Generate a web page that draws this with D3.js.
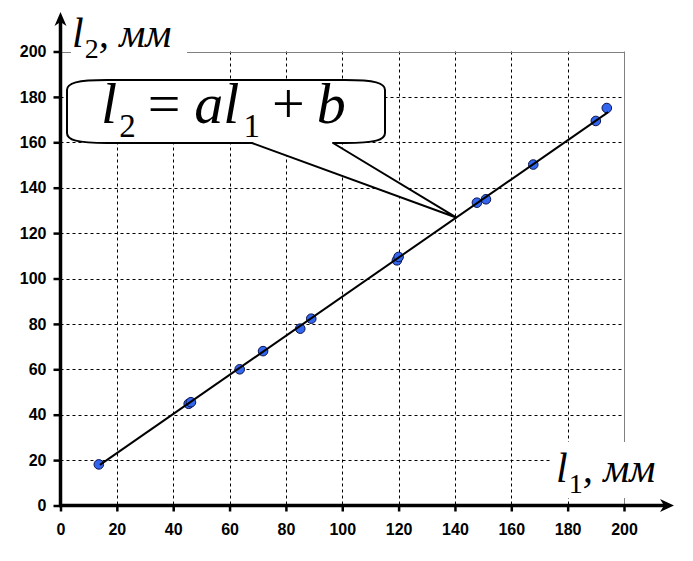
<!DOCTYPE html>
<html><head><meta charset="utf-8">
<script src="https://cdn.jsdelivr.net/npm/d3@7"></script>
<style>
html,body{margin:0;padding:0;background:#fff;}
svg{display:block;}
.tick text{font-family:"Liberation Sans",Arial,sans-serif;font-weight:bold;font-size:16px;fill:#000;}
.lbl{font-family:"Liberation Serif","Times New Roman",serif;font-style:italic;fill:#000;}
.num{font-family:"Liberation Serif","Times New Roman",serif;font-style:normal;fill:#000;}
</style></head>
<body>
<script>
// data
const l1Values = [13.6, 45.5, 46.3, 63.6, 71.9, 85.1, 89.0, 119.4, 120.0, 147.8, 151.0, 167.8, 190.0, 193.9];
const l2Values = [18.1, 44.8, 45.5, 60.0, 68.0, 77.9, 82.3, 108.0, 109.5, 133.4, 134.9, 150.2, 169.4, 175.1];
const fitX = [14.0, 194.4];
const fitY = [17.9, 173.3];
const xTicks = [0, 20, 40, 60, 80, 100, 120, 140, 160, 180, 200];
const yTicks = [0, 20, 40, 60, 80, 100, 120, 140, 160, 180, 200];
const calloutAt = [140.4, 126.9];

const W = 693, H = 561;
const svg = d3.select("body").append("svg").attr("width", W).attr("height", H);
const x = d3.scaleLinear().domain([0, 200]).range([60.5, 624]);
const y = d3.scaleLinear().domain([0, 200]).range([505.5, 51.5]);

// grid
const grid = svg.append("g");
grid.selectAll(".vg").data(xTicks.filter(d => d > 0 && d < 200)).join("line")
  .attr("x1", d => Math.round(x(d)) + 0.5).attr("x2", d => Math.round(x(d)) + 0.5)
  .attr("y1", y(200)).attr("y2", y(0))
  .attr("stroke", "#000").attr("stroke-width", 1).attr("stroke-dasharray", "3,3");
grid.selectAll(".hg").data(yTicks.filter(d => d > 0 && d < 200)).join("line")
  .attr("y1", d => Math.round(y(d)) + 0.5).attr("y2", d => Math.round(y(d)) + 0.5)
  .attr("x1", x(0)).attr("x2", x(200))
  .attr("stroke", "#000").attr("stroke-width", 1).attr("stroke-dasharray", "3,3");
// plot border (gray top and right)
svg.append("line").attr("x1", x(0)).attr("x2", x(200)).attr("y1", Math.round(y(200)) + 0.5).attr("y2", Math.round(y(200)) + 0.5)
  .attr("stroke", "#808080").attr("stroke-width", 1);
svg.append("line").attr("x1", Math.round(x(200)) + 0.5).attr("x2", Math.round(x(200)) + 0.5).attr("y1", y(200)).attr("y2", y(0))
  .attr("stroke", "#808080").attr("stroke-width", 1);

// points
svg.append("g").selectAll("circle").data(l1Values.map((v, i) => [v, l2Values[i]])).join("circle")
  .attr("cx", d => x(d[0])).attr("cy", d => y(d[1])).attr("r", 4.8)
  .attr("fill", "#3366ee").attr("stroke", "#0a1450").attr("stroke-width", 1);

// fitted line
svg.append("line")
  .attr("x1", x(fitX[0])).attr("y1", y(fitY[0])).attr("x2", x(fitX[1])).attr("y2", y(fitY[1]))
  .attr("stroke", "#000").attr("stroke-width", 2);

// axes
const yAxis = d3.axisLeft(y).tickValues(yTicks).tickSize(7).tickPadding(7).tickSizeOuter(0);
const xAxis = d3.axisBottom(x).tickValues(xTicks).tickSize(6).tickPadding(12).tickSizeOuter(0);
const gy = svg.append("g").attr("transform", `translate(${x(0)},0)`).call(yAxis);
const gx = svg.append("g").attr("transform", `translate(0,${y(0)})`).call(xAxis);
[gx, gy].forEach(g => {
  g.select(".domain").remove();
  g.selectAll(".tick line").attr("stroke", "#000").attr("stroke-width", 2.5);
  g.selectAll(".tick text").attr("fill", "#000");
});
// axis lines with arrows
svg.append("line").attr("x1", x(0)).attr("x2", x(0)).attr("y1", y(0) + 1.5).attr("y2", 20)
  .attr("stroke", "#000").attr("stroke-width", 3.5);
svg.append("line").attr("x1", x(0) - 1.5).attr("x2", 666).attr("y1", y(0)).attr("y2", y(0))
  .attr("stroke", "#000").attr("stroke-width", 3.5);
const ax = x(0), ay = y(0);
svg.append("path").attr("d", `M${ax},12 L${ax + 6},26 L${ax},22 L${ax - 6},26 Z`).attr("fill", "#000");
svg.append("path").attr("d", `M674,${ay} L660,${ay - 6.5} L664,${ay} L660,${ay + 6.5} Z`).attr("fill", "#000");

// axis labels with white background
svg.append("rect").attr("x", 71).attr("y", 8).attr("width", 116).attr("height", 72).attr("fill", "#fff");
svg.append("rect").attr("x", 550).attr("y", 442).attr("width", 110).attr("height", 56).attr("fill", "#fff");

function axisLabel(x0, base, sub) {
  const t = svg.append("text").attr("class", "lbl").attr("x", x0).attr("y", base).attr("font-size", 42);
  t.append("tspan").text("l");
  t.append("tspan").attr("class", "num").attr("font-size", 28).attr("dy", 11).attr("dx", 1).text(sub);
  t.append("tspan").attr("dy", -11).attr("font-size", 41).text(", мм");
}
axisLabel(72, 47, "2");
axisLabel(556, 482, "1");

// callout
const tip = [x(calloutAt[0]), y(calloutAt[1])];
svg.append("path")
  .attr("d", `M107,80 H345 C375,80 385,83 385,90 V133 C385,140 375,143 345,143 H333 L${tip[0]},${tip[1]} L252,143 H107 C77,143 67,140 67,133 V90 C67,83 77,80 107,80 Z`)
  .attr("fill", "#fff").attr("stroke", "#000").attr("stroke-width", 2).attr("stroke-linejoin", "round");

const f = svg.append("text").attr("class", "lbl").attr("x", 101).attr("y", 123).attr("font-size", 58);
f.append("tspan").text("l");
f.append("tspan").attr("class", "num").attr("font-size", 33).attr("dy", 14).attr("dx", 2).text("2");
f.append("tspan").attr("class", "num").attr("dy", -14).attr("dx", 12).text("=");
f.append("tspan").attr("dx", 14).text("al");
f.append("tspan").attr("class", "num").attr("font-size", 33).attr("dy", 14).attr("dx", 4).text("1");
f.append("tspan").attr("class", "num").attr("dy", -14).attr("dx", 12).text("+");
f.append("tspan").attr("dx", 12).text("b");
</script>
</body></html>
